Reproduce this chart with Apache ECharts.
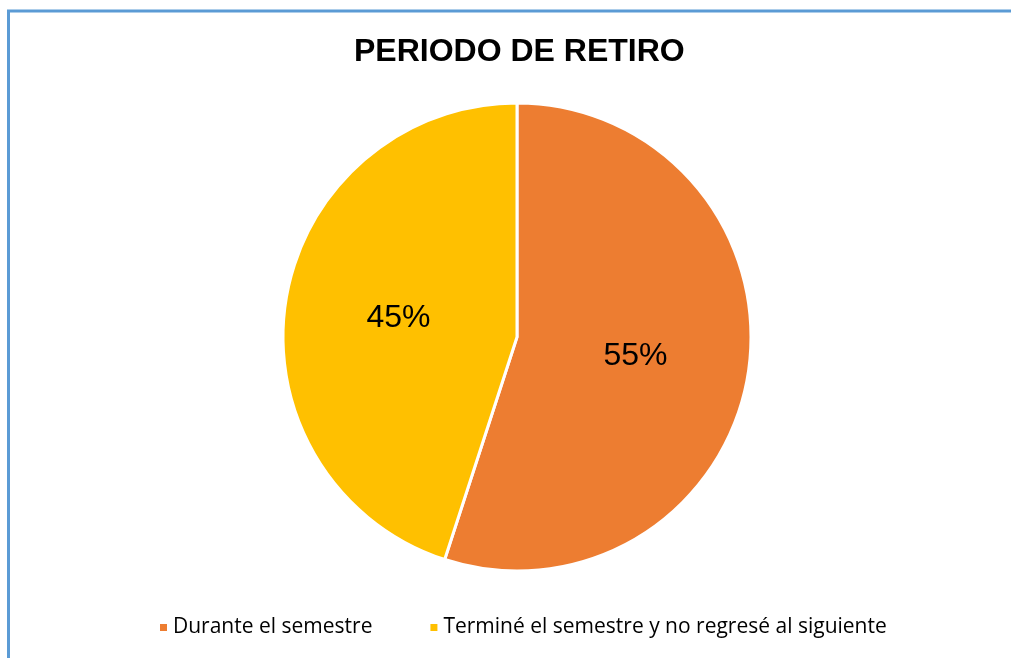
<!DOCTYPE html>
<html>
<head>
<meta charset="utf-8">
<script src="https://cdn.jsdelivr.net/npm/echarts@6/dist/echarts.min.js"></script>
<style>
  html, body { margin: 0; padding: 0; background: #fff; }
  #chart { width: 1011px; height: 658px; }
</style>
</head>
<body>
<div id="chart"></div>
<script>
var categories = ['Durante el semestre', 'Terminé el semestre y no regresé al siguiente']
var values = [55, 45]
var colors = ['#ED7D31', '#FFC000']

var chart = echarts.init(document.getElementById('chart'))

var option = {
  backgroundColor: '#fff',
  animation: false,
  title: {
    text: 'PERIODO DE RETIRO',
    left: 349,
    top: 31,
    textStyle: {
      fontFamily: 'Liberation Sans',
      fontWeight: 'bold',
      fontSize: 32,
      color: '#000'
    }
  },
  legend: {
    bottom: 15,
    left: 153,
    itemWidth: 9,
    itemHeight: 9,
    itemGap: 56,
    icon: 'rect',
    data: categories,
    textStyle: {
      fontFamily: 'Open Sans',
      fontSize: 21,
      color: '#000'
    }
  },
  graphic: [
    {
      type: 'polyline',
      shape: { points: [[8.5, 658], [8.5, 11], [1011, 11]] },
      style: { stroke: '#5B9BD5', lineWidth: 3, fill: null }
    }
  ],
  series: [
    {
      type: 'pie',
      center: [517, 337],
      radius: [0, 234],
      startAngle: 90,
      clockwise: true,
      label: {
        show: true,
        position: 'inside',
        formatter: '{d}%',
        fontFamily: 'Liberation Sans',
        fontSize: 32,
        color: '#000'
      },
      labelLine: { show: false },
      itemStyle: {
        borderColor: '#fff',
        borderWidth: 3
      },
      data: categories.map(function (name, i) {
        return { name: name, value: values[i], itemStyle: { color: colors[i] } }
      })
    }
  ]
}

chart.setOption(option)
</script>
</body>
</html>
